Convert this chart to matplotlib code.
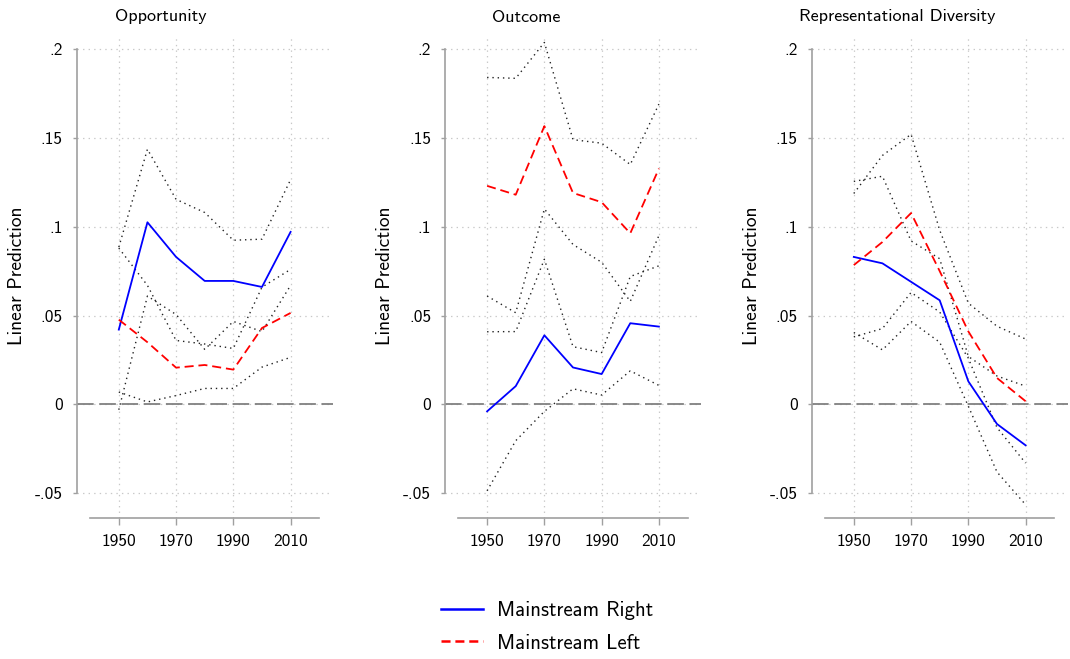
import matplotlib
matplotlib.use("Agg")
import matplotlib.pyplot as plt

plt.rcParams['font.family'] = ['cmss10', 'DejaVu Sans']
plt.rcParams['lines.scale_dashes'] = False
plt.rcParams['axes.unicode_minus'] = False

years = [1950, 1960, 1970, 1980, 1990, 2000, 2010]
panel_titles = ["Opportunity", "Outcome", "Representational Diversity"]
series_labels = ["Mainstream Right", "Mainstream Left"]

# Opportunity
opp_right = [0.0421, 0.1025, 0.0830, 0.0695, 0.0695, 0.0661, 0.0971]
opp_right_hi = [0.0885, 0.1436, 0.1154, 0.1080, 0.0924, 0.0930, 0.1265]
opp_right_lo = [-0.0030, 0.0610, 0.0506, 0.0310, 0.0467, 0.0410, 0.0670]
opp_left = [0.0477, 0.0350, 0.0207, 0.0222, 0.0196, 0.0430, 0.0515]
opp_left_hi = [0.0880, 0.0670, 0.0360, 0.0340, 0.0315, 0.0660, 0.0760]
opp_left_lo = [0.0070, 0.0014, 0.0050, 0.0090, 0.0090, 0.0210, 0.0265]

# Outcome
out_right = [-0.0039, 0.0103, 0.0389, 0.0208, 0.0171, 0.0457, 0.0438]
out_right_hi = [0.0409, 0.0410, 0.0817, 0.0325, 0.0292, 0.0720, 0.0780]
out_right_lo = [-0.0486, -0.0204, -0.0039, 0.0088, 0.0053, 0.0189, 0.0107]
out_left = [0.1230, 0.1180, 0.1566, 0.1190, 0.1138, 0.0963, 0.1327]
out_left_hi = [0.1840, 0.1835, 0.2037, 0.1490, 0.1470, 0.1350, 0.1690]
out_left_lo = [0.0610, 0.0516, 0.1100, 0.0900, 0.0800, 0.0580, 0.0950]

# Representational Diversity
rd_right = [0.0830, 0.0794, 0.0690, 0.0586, 0.0130, -0.0110, -0.0230]
rd_right_hi = [0.1255, 0.1284, 0.0920, 0.0820, 0.0270, 0.0160, 0.0103]
rd_right_lo = [0.0405, 0.0307, 0.0467, 0.0350, -0.0010, -0.0380, -0.0564]
rd_left = [0.0784, 0.0914, 0.1077, 0.0750, 0.0411, 0.0149, 0.0018]
rd_left_hi = [0.1187, 0.1401, 0.1520, 0.0980, 0.0570, 0.0440, 0.0368]
rd_left_lo = [0.0380, 0.0427, 0.0630, 0.0520, 0.0260, -0.0130, -0.0330]

panels = [
    (opp_right, opp_right_hi, opp_right_lo, opp_left, opp_left_hi, opp_left_lo),
    (out_right, out_right_hi, out_right_lo, out_left, out_left_hi, out_left_lo),
    (rd_right, rd_right_hi, rd_right_lo, rd_left, rd_left_hi, rd_left_lo),
]

yticks = [-0.05, 0, 0.05, 0.1, 0.15, 0.2]
ytick_labels = ["-.05", "0", ".05", ".1", ".15", ".2"]
xticks = [1950, 1970, 1990, 2010]
xtick_labels = ["1950", "1970", "1990", "2010"]

W, H = 1070, 659
fig = plt.figure(figsize=(W / 100, H / 100), dpi=100)

axis_left_px = [76.7, 445.0, 811.7]
title_cx_px = [161, 525.7, 896.7]
ax_w_px = 256.0
ax_top_px = 35.0
ax_bot_px = 517.7

grid_col = '#c8c8c8'
spine_col = '#a0a0a0'

handles = None
for i, (r, rh, rl, l, lh, ll) in enumerate(panels):
    ax = fig.add_axes([axis_left_px[i] / W, (H - ax_bot_px) / H,
                       ax_w_px / W, (ax_bot_px - ax_top_px) / H])
    ax.set_xlim(1935.3, 2024.7)
    ax.set_ylim(-0.06373, 0.20788)
    for yv in yticks:
        ax.axhline(yv, color=grid_col, lw=0.9, dashes=(1.0, 3.0), zorder=0)
    for xv in xticks:
        ax.axvline(xv, color=grid_col, lw=0.9, dashes=(1.0, 3.0), zorder=0)
    ax.axhline(0, color='#808080', lw=1.3, dashes=(12, 4), zorder=1)

    for ci in (rh, rl, lh, ll):
        ax.plot(years, ci, color='#222222', lw=1.0, dashes=(1.0, 2.8), zorder=2)
    hr, = ax.plot(years, r, color='#0000ff', lw=1.3, zorder=3, label=series_labels[0])
    hl, = ax.plot(years, l, color='#ff0000', lw=1.3, dashes=(6.5, 3.5), zorder=3,
                  label=series_labels[1])
    handles = [hr, hl]

    for s in ('top', 'right'):
        ax.spines[s].set_visible(False)
    ax.spines['left'].set_bounds(-0.05, 0.2)
    ax.spines['bottom'].set_bounds(1940, 2020)
    for s in ('left', 'bottom'):
        ax.spines[s].set_color(spine_col)
        ax.spines[s].set_linewidth(1.2)

    ax.set_yticks(yticks)
    ax.set_yticklabels(ytick_labels)
    ax.set_xticks(xticks)
    ax.set_xticklabels(xtick_labels)
    ax.tick_params(axis='y', length=3, width=1.0, color=spine_col, pad=7,
                   labelsize=12.5, labelcolor='black')
    ax.tick_params(axis='x', length=5, width=1.0, color=spine_col, pad=7,
                   labelsize=12.5, labelcolor='black')

    fig.text(title_cx_px[i] / W, 1 - 17 / H, panel_titles[i], ha='center', va='center',
             fontsize=13)
    fig.text((axis_left_px[i] - 60) / W, 1 - 276 / H, "Linear Prediction", rotation=90,
             ha='center', va='center', fontsize=14)

leg = fig.legend(handles=handles, labels=series_labels, loc='center left',
                 bbox_to_anchor=(441 / W, 1 - 627 / H), frameon=False, fontsize=15,
                 handlelength=2.0, handletextpad=0.7, borderpad=0, borderaxespad=0,
                 labelspacing=0.65)
for line in leg.get_lines():
    line.set_linewidth(1.8)

fig.savefig("out.png", dpi=100)
